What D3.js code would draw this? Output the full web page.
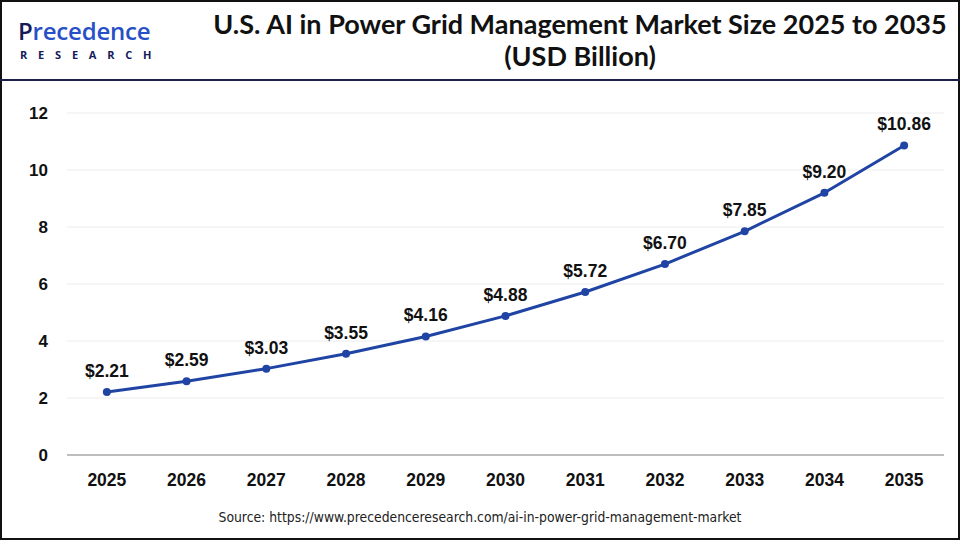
<!DOCTYPE html>
<html>
<head>
<meta charset="utf-8">
<script src="https://cdn.jsdelivr.net/npm/d3@7"></script>
<style>
  body { margin: 0; background: #fff; }
  svg { display: block; }
</style>
</head>
<body>
<div id="wrapper"></div>
<script>
const years = ['2025', '2026', '2027', '2028', '2029', '2030', '2031', '2032', '2033', '2034', '2035']
const values = [2.21, 2.59, 3.03, 3.55, 4.16, 4.88, 5.72, 6.70, 7.85, 9.20, 10.86]
const yTicks = [0, 2, 4, 6, 8, 10, 12]
const titleLines = ['U.S. AI in Power Grid Management Market Size 2025 to 2035', '(USD Billion)']
const sourceText = 'Source: https://www.precedenceresearch.com/ai-in-power-grid-management-market'

function drawChart() {
  const width = 960
  const height = 540
  const margin = { top: 113, right: 16, bottom: 85, left: 67 }

  const svg = d3.select('#wrapper').append('svg')
    .attr('width', width)
    .attr('height', height)

  // frame
  svg.append('rect')
    .attr('x', 1).attr('y', 1)
    .attr('width', width - 2).attr('height', height - 2)
    .attr('fill', 'none').attr('stroke', '#111').attr('stroke-width', 2)

  svg.append('line')
    .attr('x1', 0).attr('x2', width)
    .attr('y1', 80).attr('y2', 80)
    .attr('stroke', '#1c1f4a').attr('stroke-width', 2)

  // logo
  const logo = svg.append('g')
  const brand = logo.append('text')
    .attr('x', 18).attr('y', 40)
    .style('font-family', '"Open Sans", sans-serif')
    .style('font-size', '24px')
    .style('font-weight', 600)
    .style('letter-spacing', '-0.2px')
    .attr('fill', '#2750c8')
  brand.append('tspan').attr('fill', '#141a5a').text('P')
  brand.append('tspan').text('recedence')
  logo.append('text')
    .attr('x', 20).attr('y', 59)
    .style('font-family', '"Open Sans", sans-serif')
    .style('font-size', '11px')
    .style('font-weight', 700)
    .style('letter-spacing', '10.8px')
    .attr('fill', '#141a5a')
    .text('RESEARCH')

  // title
  svg.append('g').selectAll('text')
    .data(titleLines)
    .enter().append('text')
      .attr('x', 580)
      .attr('y', (d, i) => 34 + i * 32)
      .attr('text-anchor', 'middle')
      .style('font-family', 'Lato, "Open Sans", sans-serif')
      .style('font-size', '27px')
      .style('font-weight', 700)
      .attr('fill', '#111')
      .text(d => d)

  const x = d3.scaleBand()
    .domain(years)
    .range([margin.left, width - margin.right])

  const y = d3.scaleLinear()
    .domain([0, 12])
    .range([height - margin.bottom, margin.top])

  // gridlines
  svg.append('g').selectAll('line')
    .data(yTicks.filter(d => d > 0))
    .enter().append('line')
      .attr('x1', margin.left).attr('x2', width - margin.right)
      .attr('y1', d => y(d)).attr('y2', d => y(d))
      .attr('stroke', '#ececec').attr('stroke-width', 1)

  svg.append('line')
    .attr('x1', margin.left).attr('x2', width - margin.right)
    .attr('y1', y(0)).attr('y2', y(0))
    .attr('stroke', '#bdbdbd').attr('stroke-width', 2)

  const tickFont = (sel, size) => sel
    .style('font-family', '"Liberation Sans", Arial, sans-serif')
    .style('font-size', size + 'px')
    .style('font-weight', 700)
    .attr('fill', '#111')

  svg.append('g').selectAll('text')
    .data(yTicks)
    .enter().append('text')
      .attr('x', 48)
      .attr('y', d => y(d))
      .attr('dy', '0.35em')
      .attr('text-anchor', 'end')
      .call(tickFont, 17)
      .text(d => d)

  svg.append('g').selectAll('text')
    .data(years)
    .enter().append('text')
      .attr('x', d => x(d) + x.bandwidth() / 2)
      .attr('y', 486)
      .attr('text-anchor', 'middle')
      .call(tickFont, 17.5)
      .text(d => d)

  const data = years.map((yr, i) => ({ year: yr, value: values[i] }))
  const cx = d => x(d.year) + x.bandwidth() / 2

  const line = d3.line()
    .x(cx)
    .y(d => y(d.value))

  svg.append('path')
    .datum(data)
    .attr('d', line)
    .attr('fill', 'none')
    .attr('stroke', '#1f44a3')
    .attr('stroke-width', 3)
    .attr('stroke-linejoin', 'round')

  svg.append('g').selectAll('circle')
    .data(data)
    .enter().append('circle')
      .attr('cx', cx)
      .attr('cy', d => y(d.value))
      .attr('r', 4)
      .attr('fill', '#1f44a3')

  svg.append('g').selectAll('text')
    .data(data)
    .enter().append('text')
      .attr('x', cx)
      .attr('y', d => y(d.value) - 15)
      .attr('text-anchor', 'middle')
      .call(tickFont, 17.5)
      .text(d => '$' + d.value.toFixed(2))

  svg.append('text')
    .attr('x', 480).attr('y', 522)
    .attr('text-anchor', 'middle')
    .style('font-family', '"DejaVu Sans Condensed", "DejaVu Sans", sans-serif')
    .style('font-size', '13.8px')
    .attr('fill', '#222')
    .text(sourceText)
}
drawChart()
</script>
</body>
</html>
